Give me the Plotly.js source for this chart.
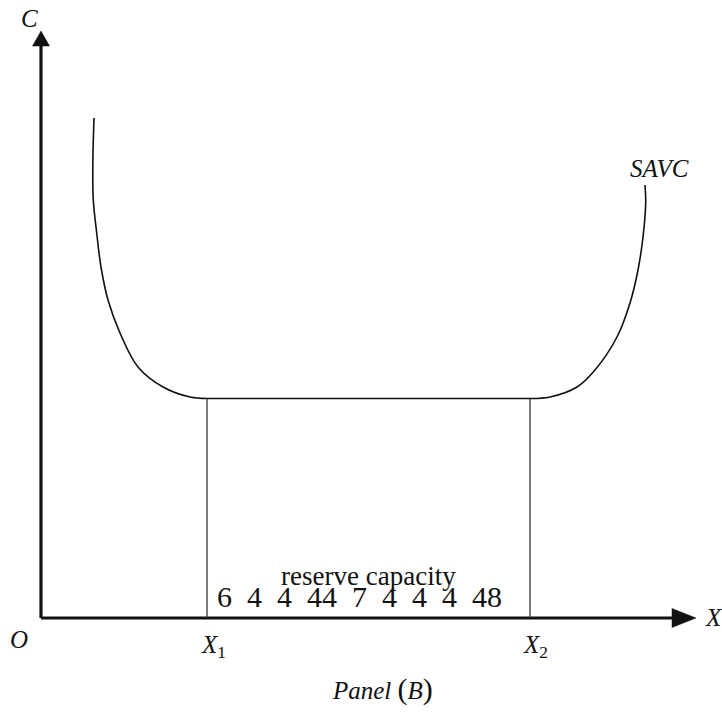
<!DOCTYPE html>
<html>
<head>
<meta charset="utf-8">
<script src="https://cdn.plot.ly/plotly-3.0.1.min.js"></script>
<style>html,body{margin:0;padding:0;background:#fff;}</style>
</head>
<body>
<div id="chart" style="width:722px;height:713px;"></div>
<script>
// Output levels (x) and cost values (y)
const X1 = 166;
const X2 = 489;
const minCost = 219.5;

// SAVC left (falling) branch
const leftX = [53, 51.8, 52.3, 55.7, 60, 67, 79, 97, 122, 149, 166];
const leftY = [500, 451, 418, 385, 351, 318, 285, 251, 231, 221, 219.5];
// SAVC right (rising) branch
const rightX = [489, 509, 536, 554, 576, 589, 597, 602, 604.7, 604];
const rightY = [219.5, 221, 231, 248, 281, 315, 348, 381, 415, 433];

// Axis extents
const xAxisEnd = 655;
const yAxisEnd = 587;

// Labels
const brace = '6\u20024\u20024\u200244\u20027\u20024\u20024\u20024\u200248';
const serif = 'Liberation Serif, Times New Roman, serif';
const ink = '#111';

// arrow head geometry
const xHeadLen = 24, xHeadHalf = 9.5;
const yHeadLen = 15, yHeadHalf = 8.5;

const traces = [
  // axes
  {x: [0, xAxisEnd - xHeadLen + 2], y: [0, 0], mode: 'lines', line: {color: ink, width: 3.2}},
  {x: [0, 0], y: [0, yAxisEnd - yHeadLen + 2], mode: 'lines', line: {color: ink, width: 3.2}},
  {x: [xAxisEnd, xAxisEnd - xHeadLen, xAxisEnd - xHeadLen, xAxisEnd], y: [0, xHeadHalf, -xHeadHalf, 0],
   mode: 'lines', fill: 'toself', fillcolor: ink, line: {color: ink, width: 0.5}},
  {x: [0, yHeadHalf, -yHeadHalf, 0], y: [yAxisEnd, yAxisEnd - yHeadLen, yAxisEnd - yHeadLen, yAxisEnd],
   mode: 'lines', fill: 'toself', fillcolor: ink, line: {color: ink, width: 0.5}},
  // SAVC curve
  {x: leftX, y: leftY, mode: 'lines', line: {color: ink, width: 1.6, shape: 'spline', smoothing: 1}},
  {x: [X1, X2], y: [minCost, minCost], mode: 'lines', line: {color: ink, width: 1.6}},
  {x: rightX, y: rightY, mode: 'lines', line: {color: ink, width: 1.6, shape: 'spline', smoothing: 1}},
  // reserve capacity verticals
  {x: [X1, X1], y: [0, minCost], mode: 'lines', line: {color: '#333', width: 1.3}},
  {x: [X2, X2], y: [0, minCost], mode: 'lines', line: {color: '#333', width: 1.3}}
];

function lab(x, y, text, size, extra) {
  return Object.assign({x: x, y: y, xref: 'x', yref: 'y', text: text, showarrow: false,
    font: {family: serif, size: size, color: ink}, xanchor: 'center', yanchor: 'middle'}, extra || {});
}

const annotations = [
  lab(-12, 600, '<i>C</i>', 25),
  lab(-22, -21, '<i>O</i>', 25),
  lab(673, 1, '<i>X</i>', 25),
  lab(X1 + 6, -28, '<i>X</i><sub>1</sub>', 25),
  lab(X2 + 5, -28, '<i>X</i><sub>2</sub>', 25),
  lab(618, 450, '<i>SAVC</i>', 25),
  lab(327, 42, 'reserve capacity', 27),
  lab(318, 22, brace, 30),
  lab(341, -71, '<i>Panel</i> <span style="font-size:30px">(</span><i>B</i><span style="font-size:30px">)</span>', 25)
];

const layout = {
  width: 722, height: 713,
  margin: {l: 0, r: 0, t: 0, b: 0},
  paper_bgcolor: '#fff', plot_bgcolor: '#fff',
  showlegend: false,
  xaxis: {range: [-41, 681], visible: false, fixedrange: true},
  yaxis: {range: [-95, 618], visible: false, fixedrange: true},
  annotations: annotations
};

Plotly.newPlot('chart', traces, layout, {displayModeBar: false, staticPlot: true});
</script>
</body>
</html>
